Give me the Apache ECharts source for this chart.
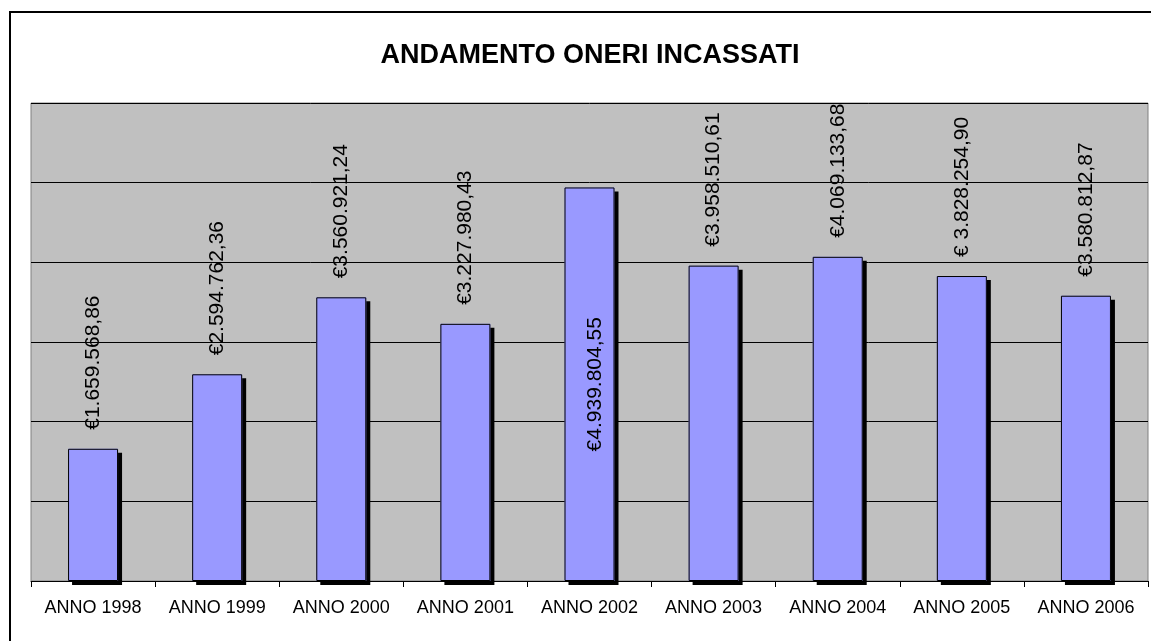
<!DOCTYPE html>
<html>
<head>
<meta charset="utf-8">
<script src="https://cdn.jsdelivr.net/npm/echarts@6/dist/echarts.min.js"></script>
<style>
  html, body { margin: 0; padding: 0; background: #fff; }
  #chart { width: 1151px; height: 641px; }
</style>
</head>
<body>
<div id="chart"></div>
<script>
// dati
const anni = ['ANNO 1998', 'ANNO 1999', 'ANNO 2000', 'ANNO 2001', 'ANNO 2002', 'ANNO 2003', 'ANNO 2004', 'ANNO 2005', 'ANNO 2006']
const oneri = [1659568.86, 2594762.36, 3560921.24, 3227980.43, 4939804.55, 3958510.61, 4069133.68, 3828254.90, 3580812.87]
const etichette = ['€1.659.568,86', '€2.594.762,36', '€3.560.921,24', '€3.227.980,43', '€4.939.804,55', '€3.958.510,61', '€4.069.133,68', '€ 3.828.254,90', '€3.580.812,87']
const yMax = 6000000
const yStep = 1000000

let myChart = echarts.init(document.getElementById('chart'))

// etichetta dentro la barra quando sopra non ci sta (come fa Excel)
let seriesData = oneri.map((v, i) => {
    let item = { value: v }
    if (v > 4500000) {
        item.label = { position: 'inside', align: 'center', distance: 0, offset: [0, 6] }
    }
    return item
})

let option = {
    animation: false,
    textStyle: { fontFamily: 'Liberation Sans, Arial, sans-serif' },
    graphic: [
        {
            type: 'rect',
            shape: { x: 10, y: 12, width: 1200, height: 700 },
            style: { fill: 'none', stroke: '#000', lineWidth: 2 },
            z: 100
        },
        {
            type: 'text',
            x: 590,
            y: 56,
            style: {
                text: 'ANDAMENTO ONERI INCASSATI',
                font: 'bold 27px Liberation Sans, Arial, sans-serif',
                fill: '#000',
                align: 'center',
                verticalAlign: 'middle'
            }
        }
    ],
    grid: {
        left: 31,
        top: 103,
        right: 3,
        bottom: 60,
        show: true,
        backgroundColor: '#C0C0C0',
        borderColor: '#808080',
        borderWidth: 1
    },
    xAxis: {
        type: 'category',
        data: anni,
        axisLine: { lineStyle: { color: '#000', width: 1 } },
        axisTick: { show: true, length: 6, lineStyle: { color: '#000' } },
        axisLabel: { color: '#000', fontSize: 18, margin: 18, interval: 0 }
    },
    yAxis: {
        type: 'value',
        min: 0,
        max: yMax,
        interval: yStep,
        axisLine: { show: false },
        axisTick: { show: false },
        axisLabel: { show: false },
        splitLine: { show: true, lineStyle: { color: '#000', width: 1 } }
    },
    series: [
        {
            // barra piena con ombra nera
            type: 'bar',
            data: seriesData,
            barWidth: 50,
            itemStyle: {
                color: '#9999FF',
                shadowColor: '#000',
                shadowBlur: 0,
                shadowOffsetX: 4,
                shadowOffsetY: 4
            },
            label: {
                show: true,
                position: 'top',
                rotate: 90,
                align: 'left',
                verticalAlign: 'middle',
                distance: 19,
                color: '#000',
                fontSize: 21,
                formatter: p => etichette[p.dataIndex]
            }
        },
        {
            // bordo nero senza ombra
            type: 'bar',
            data: oneri,
            barWidth: 50,
            barGap: '-100%',
            silent: true,
            itemStyle: {
                color: 'rgba(0,0,0,0)',
                borderColor: '#000',
                borderWidth: 1
            }
        }
    ]
}

myChart.setOption(option)
window.addEventListener('resize', function() {
    myChart.resize()
})
</script>
</body>
</html>
